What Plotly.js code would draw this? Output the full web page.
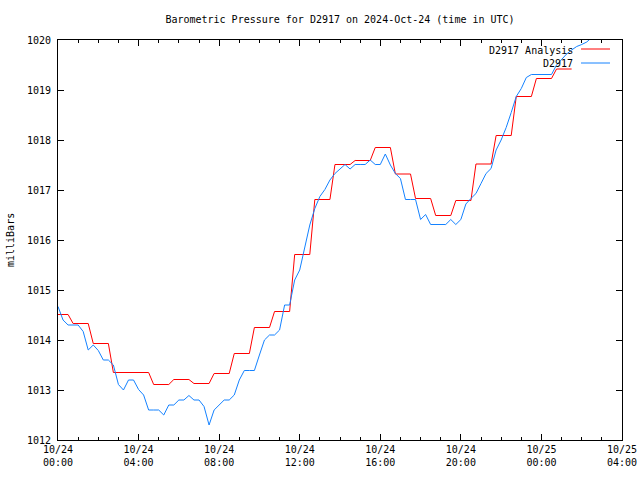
<!DOCTYPE html>
<html>
<head>
<meta charset="utf-8">
<script src="https://cdn.plot.ly/plotly-3.0.1.min.js"></script>
<style>html,body{margin:0;padding:0;background:#fff;}#chart{width:640px;height:480px;}</style>
</head>
<body>
<div id="chart"></div>
<script>
// ---- data ----
const startDateUTC = [2024, 9, 24];           // 2024-10-24 00:00 UTC
const seriesAnalysisName = "D2917 Analysis";
const seriesObsName = "D2917";
// hourly analysis values (hour 0 .. 25)
const analysisValues = [1014.51, 1014.33, 1013.93, 1013.35, 1013.35, 1013.11, 1013.21, 1013.13,
  1013.33, 1013.73, 1014.25, 1014.57, 1015.71, 1016.81, 1017.51, 1017.59, 1017.85, 1017.32,
  1016.83, 1016.49, 1016.79, 1017.52, 1018.09, 1018.87, 1019.23, 1019.42];
// observations every 15 minutes from 00:00
const obsStepMinutes = 15;
const obsValues = [
  1014.67, 1014.40, 1014.30, 1014.30, 1014.30, 1014.17, 1013.80, 1013.90,   // 0:00-1:45
  1013.79, 1013.60, 1013.60, 1013.50, 1013.11, 1013.00, 1013.20, 1013.20,   // 2:00-3:45
  1013.01, 1012.90, 1012.60, 1012.60, 1012.60, 1012.50, 1012.70, 1012.70,   // 4:00-5:45
  1012.80, 1012.80, 1012.89, 1012.80, 1012.80, 1012.67, 1012.30, 1012.60,   // 6:00-7:45
  1012.70, 1012.80, 1012.80, 1012.90, 1013.20, 1013.39, 1013.39, 1013.39,   // 8:00-9:45
  1013.70, 1014.00, 1014.10, 1014.10, 1014.20, 1014.70, 1014.70, 1015.20,   // 10:00-11:45
  1015.40, 1015.87, 1016.30, 1016.63, 1016.87, 1017.01, 1017.20, 1017.33,   // 12:00-13:45
  1017.43, 1017.51, 1017.42, 1017.51, 1017.51, 1017.51, 1017.60, 1017.51,   // 14:00-15:45
  1017.51, 1017.72, 1017.50, 1017.33, 1017.23, 1016.81, 1016.81, 1016.81,   // 16:00-17:45
  1016.41, 1016.51, 1016.31, 1016.31, 1016.31, 1016.31, 1016.41, 1016.31,   // 18:00-19:45
  1016.41, 1016.72, 1016.83, 1016.93, 1017.13, 1017.33, 1017.43, 1017.80,   // 20:00-21:45
  1018.00, 1018.25, 1018.55, 1018.87, 1019.03, 1019.25, 1019.31, 1019.31,   // 22:00-23:45
  1019.31, 1019.31, 1019.31, 1019.50, 1019.62, 1019.72, 1019.80, 1019.87,   // 0:00-1:45
  1019.91, 1019.96, 1020.05                                                  // 2:00-2:30
];
const xTickLabels = ["10/24<br>00:00", "10/24<br>04:00", "10/24<br>08:00", "10/24<br>12:00",
  "10/24<br>16:00", "10/24<br>20:00", "10/25<br>00:00", "10/25<br>04:00"];
const xTickHours = [0, 4, 8, 12, 16, 20, 24, 28];
const yRange = [1012, 1020];

// ---- helpers ----
const base = Date.UTC(startDateUTC[0], startDateUTC[1], startDateUTC[2]);
function ts(hours) {
  return new Date(base + hours * 3600000).toISOString().replace('T', ' ').slice(0, 19);
}

// analysis drawn as steps: each hourly value held from k-0.25h to k+0.5h
const anaX = [], anaY = [];
analysisValues.forEach((v, k) => {
  anaX.push(ts(k === 0 ? 0 : k - 0.25)); anaY.push(v);
  anaX.push(ts(k + 0.5)); anaY.push(v);
});
const obsX = obsValues.map((v, i) => ts(i * obsStepMinutes / 60));

const redCol = "#ff0000";
const blueCol = "#1482ff";
const fontFam = "DejaVu Sans Mono, monospace";

const traces = [
  {x: anaX, y: anaY, type: 'scatter', mode: 'lines', name: seriesAnalysisName,
   line: {color: redCol, width: 1}, showlegend: false},
  {x: obsX, y: obsValues, type: 'scatter', mode: 'lines', name: seriesObsName,
   line: {color: blueCol, width: 1}, showlegend: false}
];

const L = 58, R = 622, T = 40, B = 440;
const pw = R - L, ph = B - T;
const px = v => (v - L) / pw;
const py = v => (B - v) / ph;

const layout = {
  width: 640, height: 480,
  margin: {l: L, r: 640 - R, t: T, b: 480 - B, pad: 0},
  paper_bgcolor: '#fff', plot_bgcolor: '#fff',
  font: {family: fontFam, size: 10, color: '#000'},
  title: {text: "Barometric Pressure for D2917 on 2024-Oct-24 (time in UTC)",
          x: 0.5, xref: 'paper', y: 1 - 19 / 480, yref: 'container', yanchor: 'middle',
          font: {family: fontFam, size: 10, color: '#000'}},
  xaxis: {
    type: 'date', range: [ts(xTickHours[0]), ts(xTickHours[xTickHours.length - 1])],
    tickmode: 'array', tickvals: xTickHours.map(ts), ticktext: xTickLabels,
    ticks: 'inside', ticklen: 6, tickwidth: 1, tickcolor: '#000',
    minor: {dtick: 3600000, ticks: 'inside', ticklen: 3, tickwidth: 1, tickcolor: '#000', showgrid: false},
    showline: true, linecolor: '#000', linewidth: 1, mirror: 'ticks',
    showgrid: false, zeroline: false, fixedrange: true,
    tickfont: {family: fontFam, size: 10, color: '#000'}
  },
  yaxis: {
    range: yRange, dtick: 1, tick0: 1012,
    ticks: 'inside', ticklen: 6, tickwidth: 1, tickcolor: '#000',
    showline: true, linecolor: '#000', linewidth: 1, mirror: 'ticks',
    showgrid: false, zeroline: false, fixedrange: true,
    tickformat: 'd', ticklabelstandoff: 4,
    tickfont: {family: fontFam, size: 10, color: '#000'}
  },
  annotations: [
    {text: "milliBars", xref: 'paper', yref: 'paper', x: px(10), y: py(240),
     xanchor: 'center', yanchor: 'middle', textangle: -90, showarrow: false,
     font: {family: fontFam, size: 10, color: '#000'}},
    {text: seriesAnalysisName, xref: 'paper', yref: 'paper', x: px(575), y: py(50),
     xanchor: 'right', yanchor: 'middle', showarrow: false,
     font: {family: fontFam, size: 10, color: '#000'}},
    {text: seriesObsName, xref: 'paper', yref: 'paper', x: px(575), y: py(63),
     xanchor: 'right', yanchor: 'middle', showarrow: false,
     font: {family: fontFam, size: 10, color: '#000'}}
  ],
  shapes: [
    {type: 'line', xref: 'paper', yref: 'paper', x0: px(581), x1: px(610), y0: py(49), y1: py(49),
     line: {color: redCol, width: 1}},
    {type: 'line', xref: 'paper', yref: 'paper', x0: px(581), x1: px(610), y0: py(63), y1: py(63),
     line: {color: blueCol, width: 1}}
  ]
};

Plotly.newPlot('chart', traces, layout, {staticPlot: true, displayModeBar: false});
</script>
</body>
</html>
